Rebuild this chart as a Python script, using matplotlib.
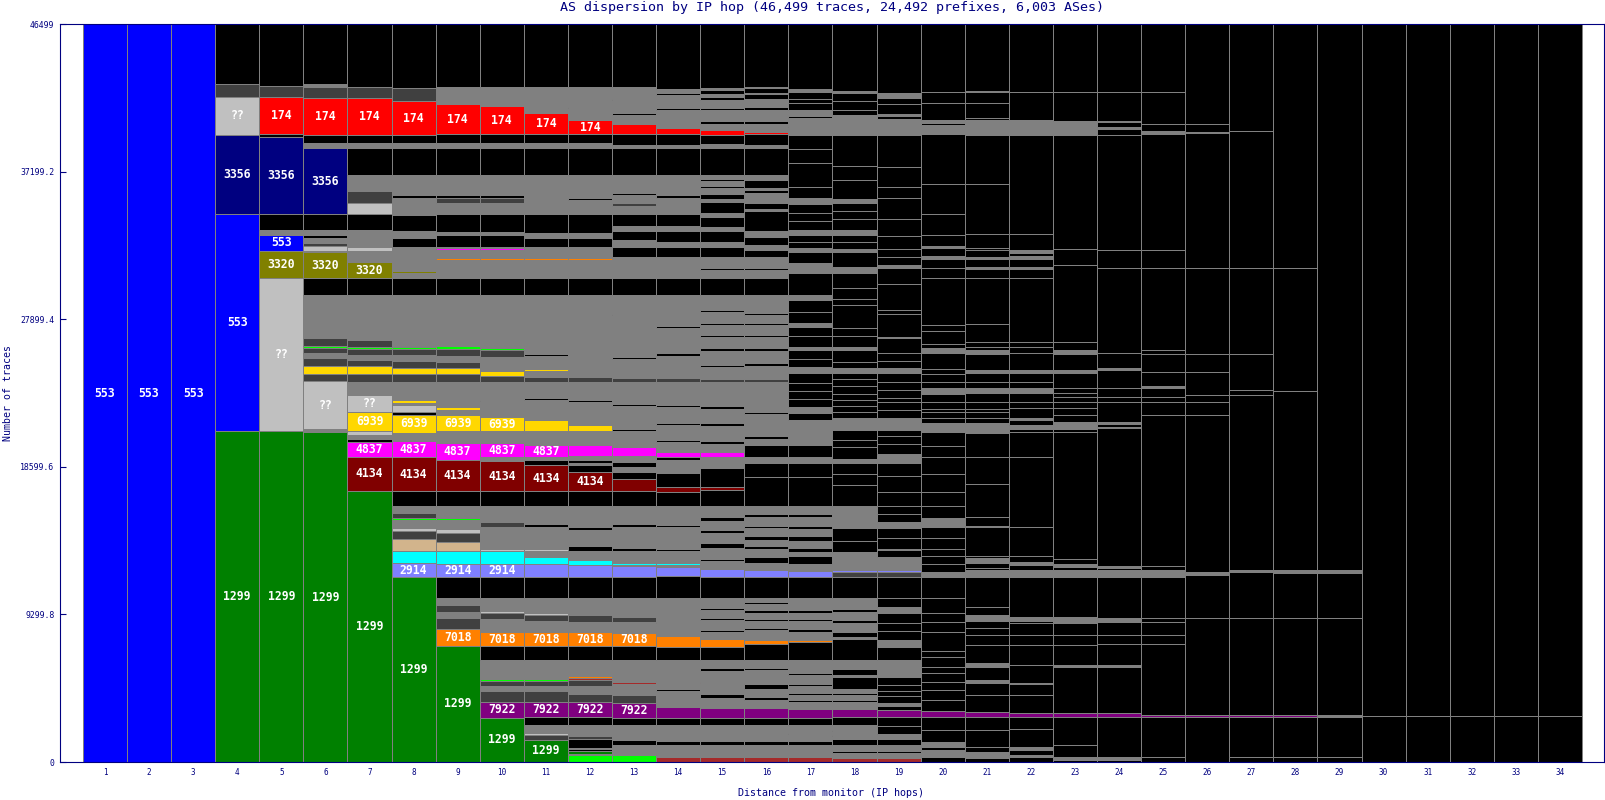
import matplotlib
matplotlib.use("Agg")
import matplotlib.pyplot as plt

NAVY = "#000080"
MONO = "DejaVu Sans Mono"

title = "AS dispersion by IP hop (46,499 traces, 24,492 prefixes, 6,003 ASes)"
total_traces = 46499
hops = list(range(1, 35))
y_ticks = [0, 9299.8, 18599.6, 27899.4, 37199.2, 46499]
y_tick_labels = ["0", "9299.8", "18599.6", "27899.4", "37199.2", "46499"]

as_colors = {
    "553": "#0000FF", "1299": "#008000", "3356": "#000080", "174": "#FF0000",
    "??": "#C0C0C0", "3320": "#808000", "6939": "#FFD700", "4837": "#FF00FF",
    "4134": "#800000", "2914": "#8080FF", "7018": "#FF8000", "7922": "#800080",
    "cyan": "#00FFFF", "tan": "#D2B48C", "lime": "#00FF00", "brown": "#A52A2A",
    "gray": "#808080", "dgray": "#404040", "black": "#000000",
}

# segments per hop, bottom -> top: (AS, traces, show label)
hop01 = [("553", 46499, 1)]
hop02 = [("553", 46499, 1)]
hop03 = [("553", 46499, 1)]
hop04 = [("1299", 20853, 1), ("553", 13671, 1), ("3356", 4996, 1), ("??", 2394, 1), ("dgray", 777, 0), ("black", 3808, 0)]
hop05 = [("1299", 20853, 1), ("??", 9639, 1), ("3320", 1720, 1), ("553", 989, 1), ("gray", 315, 0), ("black", 1008, 0),
         ("3356", 4826, 1), ("black", 230, 0), ("174", 2350, 1), ("dgray", 674, 0), ("black", 3895, 0)]
hop06 = [("1299", 20790, 1), ("gray", 190, 0), ("??", 3000, 1), ("dgray", 485, 0), ("6939", 504, 0), ("dgray", 500, 0),
         ("gray", 300, 0), ("dgray", 300, 0), ("lime", 130, 0), ("dgray", 500, 0), ("gray", 2720, 0), ("black", 1073, 0),
         ("3320", 1613, 1), ("gray", 110, 0), ("??", 296, 0), ("dgray", 200, 0), ("gray", 300, 0), ("black", 200, 0),
         ("gray", 300, 0), ("black", 1013, 0), ("3356", 4158, 1), ("gray", 315, 0), ("black", 504, 0), ("174", 2350, 1),
         ("dgray", 693, 0), ("gray", 150, 0), ("black", 3805, 0)]
hop07 = [("1299", 17092, 1), ("4134", 2142, 1), ("4837", 945, 1), ("black", 200, 0), ("gray", 220, 0), ("??", 250, 0),
         ("6939", 1197, 1), ("??", 1071, 1), ("gray", 823, 0), ("dgray", 504, 0), ("6939", 504, 0), ("dgray", 400, 0),
         ("gray", 300, 0), ("dgray", 400, 0), ("lime", 130, 0), ("dgray", 400, 0), ("gray", 2843, 0), ("black", 1071, 0),
         ("3320", 983, 1), ("gray", 750, 0), ("??", 220, 0), ("gray", 1071, 0), ("black", 1008, 0), ("??", 693, 0),
         ("dgray", 730, 0), ("gray", 1034, 0), ("black", 1701, 0), ("gray", 315, 0), ("black", 504, 0), ("174", 2350, 1),
         ("dgray", 693, 0), ("black", 3955, 0)]
hop08 = [("1299", 11674, 1), ("2914", 844, 1), ("cyan", 775, 0), ("tan", 756, 0), ("dgray", 504, 0), ("??", 208, 0),
         ("gray", 500, 0), ("lime", 126, 0), ("dgray", 300, 0), ("gray", 441, 0), ("black", 945, 0), ("4134", 2142, 1),
         ("4837", 1008, 1), ("gray", 523, 0), ("6939", 1115, 1), ("black", 208, 0), ("??", 441, 0), ("gray", 82, 0),
         ("6939", 233, 0), ("gray", 1115, 0), ("dgray", 485, 0), ("6939", 420, 0), ("dgray", 400, 0), ("gray", 400, 0),
         ("dgray", 400, 0), ("lime", 130, 0), ("gray", 3246, 0), ("black", 1071, 0), ("gray", 315, 0), ("3320", 105, 0),
         ("gray", 1533, 0), ("black", 567, 0), ("gray", 422, 0), ("black", 1000, 0), ("??", 101, 0), ("gray", 1000, 0),
         ("black", 214, 0), ("gray", 1232, 0), ("black", 1701, 0), ("gray", 315, 0), ("black", 503, 0), ("174", 2142, 1),
         ("dgray", 838, 0), ("black", 4019, 0)]
hop09 = [("1299", 7327, 1), ("7018", 1052, 1), ("dgray", 700, 0), ("gray", 400, 0), ("dgray", 400, 0), ("gray", 453, 0),
         ("black", 1323, 0), ("2914", 844, 1), ("cyan", 775, 0), ("tan", 586, 0), ("dgray", 548, 0), ("??", 252, 0),
         ("gray", 600, 0), ("lime", 126, 0), ("gray", 742, 0), ("black", 945, 0), ("4134", 1953, 1), ("4837", 1090, 1),
         ("gray", 737, 0), ("6939", 989, 1), ("gray", 359, 0), ("6939", 145, 0), ("gray", 1594, 0), ("dgray", 485, 0),
         ("6939", 378, 0), ("dgray", 400, 0), ("gray", 400, 0), ("dgray", 450, 0), ("lime", 130, 0), ("gray", 3238, 0),
         ("black", 1071, 0), ("gray", 1150, 0), ("7018", 120, 0), ("gray", 500, 0), ("4837", 120, 0), ("gray", 63, 0),
         ("black", 737, 0), ("gray", 208, 0), ("black", 1134, 0), ("gray", 693, 0), ("dgray", 315, 0), ("black", 208, 0),
         ("gray", 1241, 0), ("black", 1701, 0), ("gray", 315, 0), ("black", 567, 0), ("174", 1890, 1), ("gray", 1090, 0),
         ("black", 3955, 0)]
hop10 = [("1299", 2793, 1), ("7922", 987, 1), ("dgray", 700, 0), ("gray", 300, 0), ("dgray", 350, 0), ("lime", 130, 0),
         ("gray", 1166, 0), ("black", 882, 0), ("7018", 882, 1), ("gray", 800, 0), ("dgray", 400, 0), ("??", 100, 0),
         ("gray", 842, 0), ("black", 1323, 0), ("2914", 844, 1), ("cyan", 775, 0), ("??", 126, 0), ("gray", 1400, 0),
         ("dgray", 300, 0), ("gray", 1028, 0), ("black", 945, 0), ("4134", 1890, 1), ("gray", 252, 0), ("4837", 882, 1),
         ("gray", 756, 0), ("6939", 882, 1), ("gray", 1000, 0), ("black", 100, 0), ("gray", 1105, 0), ("dgray", 378, 0),
         ("6939", 290, 0), ("gray", 940, 0), ("dgray", 400, 0), ("lime", 134, 0), ("gray", 3339, 0), ("black", 1071, 0),
         ("gray", 1150, 0), ("7018", 120, 0), ("gray", 500, 0), ("4837", 120, 0), ("gray", 63, 0), ("black", 737, 0),
         ("gray", 208, 0), ("black", 1134, 0), ("gray", 693, 0), ("dgray", 315, 0), ("black", 208, 0), ("gray", 1241, 0),
         ("black", 1701, 0), ("gray", 315, 0), ("black", 567, 0), ("174", 1764, 1), ("gray", 1218, 0), ("black", 3953, 0)]
hop11 = [("1299", 1407, 1), ("dgray", 271, 0), ("??", 126, 0), ("gray", 527, 0), ("black", 504, 0), ("7922", 945, 1),
         ("dgray", 700, 0), ("gray", 300, 0), ("dgray", 350, 0), ("lime", 130, 0), ("gray", 1166, 0), ("black", 882, 0),
         ("7018", 882, 1), ("gray", 700, 0), ("dgray", 400, 0), ("??", 100, 0), ("gray", 942, 0), ("black", 1323, 0),
         ("2914", 820, 0), ("cyan", 460, 0), ("gray", 358, 0), ("??", 126, 0), ("gray", 1381, 0), ("black", 200, 0),
         ("gray", 1128, 0), ("black", 945, 0), ("4134", 1638, 1), ("black", 300, 0), ("gray", 204, 0), ("4837", 735, 1),
         ("gray", 903, 0), ("6939", 672, 0), ("gray", 1300, 0), ("black", 100, 0), ("gray", 1015, 0), ("dgray", 315, 0),
         ("gray", 370, 0), ("6939", 168, 0), ("gray", 800, 0), ("black", 100, 0), ("gray", 3728, 0), ("black", 1071, 0),
         ("gray", 1150, 0), ("7018", 120, 0), ("gray", 683, 0), ("black", 600, 0), ("gray", 300, 0), ("black", 1179, 0),
         ("gray", 2457, 0), ("black", 1701, 0), ("gray", 315, 0), ("black", 567, 0), ("174", 1302, 1), ("??", 100, 0),
         ("gray", 1575, 0), ("black", 3958, 0)]
hop12 = [("lime", 420, 0), ("gray", 63, 0), ("1299", 210, 0), ("black", 126, 0), ("??", 63, 0), ("black", 592, 0),
         ("dgray", 145, 0), ("gray", 712, 0), ("black", 504, 0), ("7922", 945, 1), ("dgray", 500, 0), ("gray", 500, 0),
         ("dgray", 400, 0), ("brown", 120, 0), ("7018", 100, 0), ("gray", 1026, 0), ("black", 882, 0), ("7018", 882, 1),
         ("gray", 600, 0), ("dgray", 500, 0), ("gray", 1042, 0), ("black", 1323, 0), ("2914", 735, 0), ("cyan", 315, 0),
         ("??", 100, 0), ("gray", 488, 0), ("black", 300, 0), ("gray", 1000, 0), ("black", 200, 0), ("gray", 1335, 0),
         ("black", 945, 0), ("4134", 1218, 1), ("black", 420, 0), ("gray", 145, 0), ("black", 150, 0), ("gray", 297, 0),
         ("4837", 672, 0), ("gray", 878, 0), ("6939", 357, 0), ("gray", 1500, 0), ("black", 100, 0), ("gray", 1130, 0),
         ("dgray", 315, 0), ("gray", 500, 0), ("6939", 100, 0), ("gray", 4566, 0), ("black", 1071, 0), ("gray", 1150, 0),
         ("7018", 120, 0), ("gray", 683, 0), ("black", 600, 0), ("gray", 300, 0), ("black", 1179, 0), ("gray", 900, 0),
         ("black", 120, 0), ("gray", 1437, 0), ("black", 1701, 0), ("gray", 315, 0), ("black", 567, 0), ("174", 882, 1),
         ("gray", 735, 0), ("black", 100, 0), ("gray", 1260, 0), ("black", 3958, 0)]
hop13 = [("lime", 420, 0), ("gray", 630, 0), ("black", 357, 0), ("gray", 903, 0), ("black", 484, 0), ("7922", 920, 1),
         ("dgray", 500, 0), ("gray", 700, 0), ("brown", 120, 0), ("7018", 100, 0), ("gray", 1292, 0), ("black", 882, 0),
         ("7018", 844, 1), ("gray", 700, 0), ("dgray", 300, 0), ("gray", 1180, 0), ("black", 1323, 0), ("2914", 672, 0),
         ("gray", 60, 0), ("cyan", 168, 0), ("gray", 738, 0), ("black", 200, 0), ("gray", 1300, 0), ("black", 200, 0),
         ("gray", 1135, 0), ("black", 945, 0), ("4134", 735, 0), ("black", 478, 0), ("gray", 300, 0), ("black", 300, 0),
         ("gray", 400, 0), ("4837", 567, 0), ("gray", 1000, 0), ("black", 100, 0), ("gray", 1500, 0), ("black", 100, 0),
         ("gray", 1387, 0), ("dgray", 252, 0), ("gray", 1200, 0), ("black", 100, 0), ("gray", 2650, 0), ("black", 100, 0),
         ("gray", 1179, 0), ("black", 1071, 0), ("gray", 1342, 0), ("black", 630, 0), ("gray", 400, 0), ("black", 600, 0),
         ("gray", 300, 0), ("black", 760, 0), ("gray", 500, 0), ("dgray", 200, 0), ("gray", 500, 0), ("black", 150, 0),
         ("gray", 1107, 0), ("black", 1701, 0), ("gray", 200, 0), ("black", 682, 0), ("174", 630, 0), ("gray", 600, 0),
         ("black", 100, 0), ("gray", 800, 0), ("black", 100, 0), ("gray", 750, 0), ("black", 3955, 0)]
hop14 = [("brown", 315, 0), ("gray", 735, 0), ("black", 300, 0), ("gray", 981, 0), ("black", 420, 0), ("7922", 735, 0),
         ("gray", 1000, 0), ("black", 100, 0), ("gray", 500, 0), ("brown", 100, 0), ("gray", 1240, 0), ("black", 840, 0),
         ("7018", 672, 0), ("gray", 800, 0), ("black", 100, 0), ("gray", 1494, 0), ("black", 1365, 0), ("2914", 588, 0),
         ("gray", 150, 0), ("cyan", 100, 0), ("gray", 763, 0), ("black", 100, 0), ("gray", 1400, 0), ("black", 150, 0),
         ("gray", 1180, 0), ("black", 900, 0), ("4134", 315, 0), ("black", 840, 0), ("gray", 840, 0), ("black", 200, 0),
         ("4837", 336, 0), ("gray", 600, 0), ("black", 150, 0), ("gray", 900, 0), ("black", 150, 0), ("gray", 1000, 0),
         ("black", 150, 0), ("gray", 1431, 0), ("dgray", 252, 0), ("gray", 1400, 0), ("black", 150, 0), ("gray", 1600, 0),
         ("black", 150, 0), ("gray", 1929, 0), ("black", 1071, 0), ("gray", 1342, 0), ("black", 630, 0), ("gray", 300, 0),
         ("black", 700, 0), ("gray", 300, 0), ("black", 760, 0), ("gray", 1000, 0), ("black", 200, 0), ("gray", 1257, 0),
         ("black", 1701, 0), ("gray", 200, 0), ("black", 682, 0), ("174", 378, 0), ("gray", 1134, 0), ("black", 150, 0),
         ("gray", 800, 0), ("black", 150, 0), ("gray", 200, 0), ("black", 4123, 0)]
hop15 = [("brown", 315, 0), ("gray", 735, 0), ("black", 300, 0), ("gray", 981, 0), ("black", 441, 0), ("7922", 630, 0),
         ("gray", 600, 0), ("black", 300, 0), ("gray", 650, 0), ("brown", 80, 0), ("gray", 700, 0), ("black", 200, 0),
         ("gray", 494, 0), ("black", 840, 0), ("7018", 504, 0), ("gray", 400, 0), ("black", 150, 0), ("gray", 600, 0),
         ("black", 150, 0), ("gray", 500, 0), ("black", 150, 0), ("gray", 593, 0), ("black", 1361, 0), ("2914", 483, 0),
         ("gray", 500, 0), ("black", 150, 0), ("gray", 700, 0), ("black", 300, 0), ("gray", 600, 0), ("black", 200, 0),
         ("gray", 600, 0), ("black", 200, 0), ("gray", 721, 0), ("black", 1008, 0), ("4134", 170, 0), ("black", 1216, 0),
         ("gray", 712, 0), ("4837", 315, 0), ("gray", 500, 0), ("black", 150, 0), ("gray", 1000, 0), ("black", 150, 0),
         ("gray", 900, 0), ("black", 150, 0), ("gray", 1560, 0), ("dgray", 200, 0), ("gray", 700, 0), ("black", 150, 0),
         ("gray", 900, 0), ("black", 150, 0), ("gray", 700, 0), ("black", 150, 0), ("gray", 600, 0), ("black", 150, 0),
         ("gray", 700, 0), ("black", 150, 0), ("gray", 912, 0), ("black", 1052, 0), ("gray", 500, 0), ("black", 150, 0),
         ("gray", 711, 0), ("black", 630, 0), ("gray", 300, 0), ("black", 700, 0), ("gray", 250, 0), ("black", 600, 0),
         ("gray", 250, 0), ("black", 700, 0), ("gray", 200, 0), ("black", 300, 0), ("gray", 400, 0), ("black", 150, 0),
         ("gray", 300, 0), ("black", 100, 0), ("gray", 267, 0), ("black", 1682, 0), ("gray", 300, 0), ("black", 538, 0),
         ("174", 315, 0), ("gray", 400, 0), ("black", 150, 0), ("gray", 700, 0), ("black", 150, 0), ("gray", 500, 0),
         ("black", 200, 0), ("gray", 150, 0), ("black", 300, 0), ("gray", 100, 0), ("black", 4033, 0)]
hop16 = [("brown", 315, 0), ("gray", 735, 0), ("black", 300, 0), ("gray", 981, 0), ("black", 441, 0), ("7922", 630, 0),
         ("gray", 500, 0), ("black", 200, 0), ("gray", 500, 0), ("black", 300, 0), ("brown", 80, 0), ("gray", 800, 0),
         ("black", 150, 0), ("gray", 494, 0), ("black", 1010, 0), ("7018", 273, 0), ("gray", 600, 0), ("black", 150, 0),
         ("gray", 400, 0), ("black", 150, 0), ("gray", 400, 0), ("black", 150, 0), ("gray", 400, 0), ("black", 100, 0),
         ("gray", 254, 0), ("black", 1361, 0), ("2914", 441, 0), ("gray", 400, 0), ("black", 400, 0), ("gray", 500, 0),
         ("black", 200, 0), ("gray", 400, 0), ("black", 200, 0), ("gray", 500, 0), ("black", 150, 0), ("gray", 600, 0),
         ("black", 150, 0), ("gray", 513, 0), ("black", 1847, 0), ("black", 843, 0), ("gray", 416, 0), ("black", 737, 0),
         ("gray", 400, 0), ("black", 150, 0), ("gray", 1400, 0), ("black", 150, 0), ("gray", 1888, 0), ("dgray", 200, 0),
         ("gray", 800, 0), ("black", 150, 0), ("gray", 800, 0), ("black", 150, 0), ("gray", 700, 0), ("black", 150, 0),
         ("gray", 600, 0), ("black", 150, 0), ("gray", 500, 0), ("black", 150, 0), ("gray", 1112, 0), ("black", 1052, 0),
         ("gray", 500, 0), ("black", 150, 0), ("gray", 711, 0), ("black", 430, 0), ("gray", 300, 0), ("black", 500, 0),
         ("gray", 400, 0), ("black", 1260, 0), ("gray", 150, 0), ("black", 343, 0), ("gray", 630, 0), ("black", 200, 0),
         ("gray", 100, 0), ("black", 500, 0), ("gray", 334, 0), ("black", 1682, 0), ("gray", 200, 0), ("black", 700, 0),
         ("174", 146, 0), ("gray", 500, 0), ("black", 150, 0), ("gray", 700, 0), ("black", 200, 0), ("gray", 500, 0),
         ("black", 300, 0), ("gray", 100, 0), ("black", 300, 0), ("gray", 100, 0), ("black", 3940, 0)]
hop17 = [("brown", 315, 0), ("gray", 735, 0), ("black", 300, 0), ("gray", 400, 0), ("black", 100, 0), ("gray", 481, 0),
         ("black", 441, 0), ("7922", 588, 0), ("gray", 400, 0), ("black", 150, 0), ("gray", 300, 0), ("black", 150, 0),
         ("gray", 400, 0), ("black", 150, 0), ("gray", 600, 0), ("black", 100, 0), ("gray", 816, 0), ("black", 1134, 0),
         ("7018", 147, 0), ("gray", 500, 0), ("black", 150, 0), ("gray", 500, 0), ("black", 150, 0), ("gray", 400, 0),
         ("black", 200, 0), ("gray", 706, 0), ("black", 1361, 0), ("2914", 378, 0), ("gray", 400, 0), ("black", 500, 0),
         ("gray", 300, 0), ("black", 200, 0), ("gray", 500, 0), ("black", 300, 0), ("gray", 400, 0), ("black", 200, 0),
         ("gray", 600, 0), ("black", 150, 0), ("gray", 526, 0), ("black", 1847, 0), ("black", 843, 0), ("gray", 416, 0),
         ("black", 737, 0), ("gray", 1575, 0), ("black", 423, 0), ("gray", 415, 0), ("black", 500, 0), ("black", 500, 0),
         ("black", 500, 0), ("black", 604, 0), ("gray", 416, 0), ("black", 500, 0), ("black", 552, 0), ("gray", 208, 0),
         ("black", 700, 0), ("black", 560, 0), ("gray", 214, 0), ("black", 700, 0), ("black", 768, 0), ("gray", 315, 0),
         ("black", 1367, 0), ("gray", 630, 0), ("black", 731, 0), ("gray", 214, 0), ("black", 400, 0), ("black", 438, 0),
         ("gray", 315, 0), ("black", 600, 0), ("black", 500, 0), ("black", 538, 0), ("gray", 359, 0), ("black", 732, 0),
         ("black", 1500, 0), ("black", 900, 0), ("black", 856, 0), ("gray", 500, 0), ("black", 100, 0), ("gray", 500, 0),
         ("black", 100, 0), ("gray", 375, 0), ("black", 422, 0), ("black", 300, 0), ("black", 431, 0), ("gray", 148, 0),
         ("black", 4122, 0)]
hop18 = [("brown", 252, 0), ("gray", 300, 0), ("black", 150, 0), ("gray", 348, 0), ("black", 380, 0), ("gray", 200, 0),
         ("black", 100, 0), ("gray", 200, 0), ("black", 100, 0), ("gray", 301, 0), ("black", 504, 0), ("7922", 483, 0),
         ("gray", 450, 0), ("black", 150, 0), ("gray", 300, 0), ("black", 150, 0), ("gray", 200, 0), ("black", 800, 0),
         ("gray", 100, 0), ("black", 400, 0), ("gray", 558, 0), ("black", 1300, 0), ("gray", 150, 0), ("black", 300, 0),
         ("gray", 600, 0), ("black", 150, 0), ("gray", 500, 0), ("black", 200, 0), ("gray", 687, 0), ("black", 1361, 0),
         ("dgray", 300, 0), ("2914", 126, 0), ("gray", 1149, 0), ("black", 700, 0), ("black", 793, 0), ("gray", 1386, 0),
         ("black", 1300, 0), ("black", 700, 0), ("black", 690, 0), ("gray", 300, 0), ("black", 700, 0), ("black", 500, 0),
         ("black", 598, 0), ("gray", 737, 0), ("black", 400, 0), ("black", 350, 0), ("black", 400, 0), ("black", 400, 0),
         ("black", 500, 0), ("black", 400, 0), ("black", 385, 0), ("gray", 315, 0), ("black", 400, 0), ("black", 753, 0),
         ("gray", 208, 0), ("black", 700, 0), ("black", 500, 0), ("black", 1400, 0), ("black", 400, 0), ("black", 700, 0),
         ("black", 924, 0), ("gray", 416, 0), ("black", 945, 0), ("gray", 200, 0), ("black", 400, 0), ("black", 452, 0),
         ("gray", 315, 0), ("black", 700, 0), ("black", 500, 0), ("black", 522, 0), ("gray", 211, 0), ("black", 1200, 0),
         ("black", 900, 0), ("black", 1952, 0), ("gray", 1260, 0), ("black", 315, 0), ("black", 600, 0), ("black", 500, 0),
         ("gray", 100, 0), ("black", 4223, 0)]
hop19 = [("brown", 252, 0), ("gray", 300, 0), ("black", 150, 0), ("gray", 348, 0), ("black", 400, 0), ("gray", 300, 0),
         ("black", 500, 0), ("black", 576, 0), ("7922", 420, 0), ("black", 300, 0), ("gray", 200, 0), ("black", 400, 0),
         ("black", 300, 0), ("black", 400, 0), ("black", 500, 0), ("gray", 1080, 0), ("black", 838, 0), ("gray", 400, 0),
         ("black", 600, 0), ("black", 500, 0), ("black", 604, 0), ("gray", 416, 0), ("black", 529, 0), ("black", 1361, 0),
         ("dgray", 300, 0), ("2914", 100, 0), ("gray", 860, 0), ("black", 400, 0), ("gray", 100, 0), ("black", 700, 0),
         ("black", 600, 0), ("gray", 400, 0), ("black", 500, 0), ("black", 494, 0), ("black", 900, 0), ("black", 1000, 0),
         ("black", 800, 0), ("gray", 600, 0), ("black", 600, 0), ("black", 500, 0), ("black", 388, 0), ("gray", 737, 0),
         ("black", 500, 0), ("black", 500, 0), ("black", 300, 0), ("black", 500, 0), ("black", 500, 0), ("black", 535, 0),
         ("gray", 315, 0), ("black", 450, 0), ("black", 500, 0), ("black", 950, 0), ("gray", 100, 0), ("black", 1400, 0),
         ("black", 300, 0), ("black", 1600, 0), ("black", 1000, 0), ("gray", 210, 0), ("black", 500, 0), ("black", 500, 0),
         ("black", 800, 0), ("black", 1100, 0), ("black", 1300, 0), ("black", 700, 0), ("black", 1300, 0), ("black", 1988, 0),
         ("gray", 1000, 0), ("black", 200, 0), ("gray", 150, 0), ("black", 600, 0), ("black", 400, 0), ("gray", 300, 0),
         ("black", 4348, 0)]
hop20 = [("black", 334, 0), ("gray", 400, 0), ("black", 200, 0), ("gray", 300, 0), ("black", 800, 0), ("black", 800, 0),
         ("7922", 380, 0), ("black", 700, 0), ("black", 600, 0), ("black", 500, 0), ("black", 600, 0), ("black", 400, 0),
         ("black", 600, 0), ("black", 400, 0), ("black", 1200, 0), ("black", 600, 0), ("black", 600, 0), ("black", 899, 0),
         ("black", 1361, 0), ("gray", 315, 0), ("black", 500, 0), ("black", 500, 0), ("black", 400, 0), ("black", 700, 0),
         ("black", 700, 0), ("gray", 600, 0), ("black", 739, 0), ("black", 901, 0), ("black", 1100, 0), ("black", 1100, 0),
         ("black", 700, 0), ("black", 880, 0), ("gray", 548, 0), ("black", 300, 0), ("black", 400, 0), ("black", 200, 0),
         ("black", 450, 0), ("black", 500, 0), ("gray", 350, 0), ("black", 400, 0), ("black", 500, 0), ("black", 300, 0),
         ("black", 1000, 0), ("gray", 300, 0), ("black", 300, 0), ("black", 800, 0), ("black", 400, 0), ("black", 2916, 0),
         ("black", 630, 0), ("black", 600, 0), ("gray", 200, 0), ("black", 500, 0), ("gray", 100, 0), ("black", 700, 0),
         ("black", 1300, 0), ("black", 1900, 0), ("black", 3161, 0), ("gray", 567, 0), ("black", 150, 0), ("gray", 150, 0),
         ("black", 1067, 0), ("black", 700, 0), ("black", 4301, 0)]
hop21 = [("black", 233, 0), ("gray", 416, 0), ("black", 315, 0), ("black", 1052, 0), ("black", 800, 0), ("7922", 353, 0),
         ("black", 1052, 0), ("black", 737, 0), ("gray", 208, 0), ("black", 838, 0), ("gray", 214, 0), ("black", 1153, 0),
         ("black", 630, 0), ("black", 422, 0), ("black", 479, 0), ("gray", 359, 0), ("black", 485, 0), ("black", 1928, 0),
         ("gray", 422, 0), ("black", 107, 0), ("black", 315, 0), ("gray", 315, 0), ("black", 145, 0), ("black", 1808, 0),
         ("gray", 100, 0), ("black", 568, 0), ("black", 2041, 0), ("black", 1739, 0), ("black", 1474, 0), ("gray", 649, 0),
         ("black", 300, 0), ("black", 400, 0), ("black", 200, 0), ("black", 442, 0), ("black", 548, 0), ("gray", 315, 0),
         ("black", 397, 0), ("black", 529, 0), ("gray", 208, 0), ("black", 1008, 0), ("gray", 252, 0), ("black", 170, 0),
         ("black", 353, 0), ("black", 1096, 0), ("black", 2898, 0), ("black", 563, 0), ("gray", 168, 0), ("black", 466, 0),
         ("gray", 164, 0), ("black", 422, 0), ("black", 107, 0), ("black", 882, 0), ("black", 3150, 0), ("black", 3106, 0),
         ("gray", 945, 0), ("black", 107, 0), ("black", 945, 0), ("black", 731, 0), ("gray", 63, 0), ("black", 4207, 0)]
hop22 = [("black", 334, 0), ("gray", 107, 0), ("black", 315, 0), ("gray", 208, 0), ("black", 1096, 0), ("black", 756, 0),
         ("7922", 252, 0), ("black", 1153, 0), ("black", 693, 0), ("gray", 82, 0), ("black", 1115, 0), ("black", 1260, 0),
         ("black", 630, 0), ("black", 737, 0), ("black", 164, 0), ("gray", 214, 0), ("black", 2558, 0), ("gray", 422, 0),
         ("black", 315, 0), ("gray", 200, 0), ("black", 367, 0), ("black", 1808, 0), ("black", 4448, 0), ("black", 1575, 0),
         ("black", 170, 0), ("gray", 252, 0), ("black", 315, 0), ("gray", 126, 0), ("black", 611, 0), ("black", 416, 0),
         ("black", 548, 0), ("gray", 315, 0), ("black", 397, 0), ("black", 529, 0), ("gray", 208, 0), ("black", 1071, 0),
         ("black", 359, 0), ("black", 353, 0), ("black", 3994, 0), ("black", 563, 0), ("gray", 168, 0), ("black", 466, 0),
         ("gray", 200, 0), ("black", 200, 0), ("gray", 186, 0), ("black", 989, 0), ("black", 6256, 0), ("gray", 945, 0),
         ("black", 1745, 0), ("black", 4308, 0)]
hop23 = [("black", 126, 0), ("gray", 208, 0), ("black", 737, 0), ("black", 1745, 0), ("7922", 290, 0), ("black", 2898, 0),
         ("gray", 107, 0), ("black", 1260, 0), ("black", 630, 0), ("black", 737, 0), ("gray", 378, 0), ("black", 2558, 0),
         ("gray", 422, 0), ("black", 208, 0), ("gray", 150, 0), ("black", 335, 0), ("black", 8020, 0), ("black", 170, 0),
         ("gray", 460, 0), ("black", 422, 0), ("black", 422, 0), ("black", 416, 0), ("black", 315, 0), ("black", 233, 0),
         ("black", 315, 0), ("black", 926, 0), ("gray", 208, 0), ("black", 1008, 0), ("gray", 252, 0), ("black", 523, 0),
         ("black", 4832, 0), ("black", 1008, 0), ("black", 7182, 0), ("gray", 882, 0), ("black", 1808, 0), ("black", 4308, 0)]
hop24 = [("black", 126, 0), ("gray", 208, 0), ("black", 2482, 0), ("7922", 271, 0), ("black", 2917, 0), ("gray", 107, 0),
         ("black", 1304, 0), ("black", 586, 0), ("black", 838, 0), ("gray", 214, 0), ("black", 2621, 0), ("gray", 422, 0),
         ("black", 107, 0), ("gray", 145, 0), ("black", 8675, 0), ("gray", 101, 0), ("black", 170, 0), ("gray", 145, 0),
         ("black", 1260, 0), ("black", 315, 0), ("black", 536, 0), ("black", 1146, 0), ("gray", 100, 0), ("black", 971, 0),
         ("black", 5336, 0), ("black", 1153, 0), ("black", 7245, 0), ("black", 400, 0), ("gray", 100, 0), ("black", 300, 0),
         ("gray", 100, 0), ("black", 1790, 0), ("black", 4308, 0)]
hop25 = [("black", 334, 0), ("black", 2482, 0), ("7922", 145, 0), ("black", 4454, 0), ("black", 586, 0), ("black", 838, 0),
         ("black", 214, 0), ("black", 2621, 0), ("gray", 422, 0), ("black", 252, 0), ("black", 9513, 0), ("black", 838, 0),
         ("black", 315, 0), ("black", 548, 0), ("gray", 100, 0), ("black", 929, 0), ("black", 1113, 0), ("black", 252, 0),
         ("black", 5147, 0), ("black", 1153, 0), ("black", 7308, 0), ("gray", 200, 0), ("black", 430, 0), ("black", 1997, 0),
         ("black", 4308, 0)]
hop26 = [("black", 2816, 0), ("7922", 145, 0), ("black", 6092, 0), ("black", 2728, 0), ("gray", 208, 0), ("black", 9872, 0),
         ("black", 838, 0), ("black", 422, 0), ("black", 1470, 0), ("black", 1113, 0), ("black", 5399, 0), ("black", 8503, 0),
         ("gray", 105, 0), ("black", 483, 0), ("black", 6305, 0)]
hop27 = [("black", 284, 0), ("black", 2532, 0), ("7922", 145, 0), ("black", 6092, 0), ("black", 2936, 0), ("gray", 107, 0),
         ("black", 11025, 0), ("black", 315, 0), ("black", 2268, 0), ("black", 5399, 0), ("black", 8650, 0), ("black", 6746, 0)]
hop28 = [("black", 284, 0), ("black", 2532, 0), ("7922", 130, 0), ("black", 6107, 0), ("black", 2854, 0), ("gray", 164, 0),
         ("black", 11327, 0), ("black", 7705, 0), ("black", 15396, 0)]
hop29 = [("black", 284, 0), ("black", 2570, 0), ("gray", 100, 0), ("black", 6099, 0), ("black", 2854, 0), ("gray", 164, 0),
         ("black", 34428, 0)]
hop30 = [("black", 2867, 0), ("black", 43632, 0)]
hop31 = [("black", 2867, 0), ("black", 43632, 0)]
hop32 = [("black", 2867, 0), ("black", 43632, 0)]
hop33 = [("black", 2867, 0), ("black", 43632, 0)]
hop34 = [("black", 2867, 0), ("black", 43632, 0)]

columns = [hop01, hop02, hop03, hop04, hop05, hop06, hop07, hop08, hop09, hop10, hop11, hop12,
           hop13, hop14, hop15, hop16, hop17, hop18, hop19, hop20, hop21, hop22, hop23, hop24,
           hop25, hop26, hop27, hop28, hop29, hop30, hop31, hop32, hop33, hop34]

fig = plt.figure(figsize=(16.05, 8.0), dpi=100)
fig.patch.set_facecolor("white")
ax = fig.add_axes([60 / 1605, 38 / 800, 1544 / 1605, 738 / 800])

for x, segs in zip(hops, columns):
    heights = [s[1] for s in segs]
    colors = [as_colors[s[0]] for s in segs]
    bottoms = []
    acc = 0
    for h in heights:
        bottoms.append(acc)
        acc += h
    ax.bar([x] * len(segs), heights, bottom=bottoms, width=1.0, color=colors,
           edgecolor="#808080", linewidth=0.72, align="center")
    for (name, cnt, show), b in zip(segs, bottoms):
        if show:
            ax.text(x, b + cnt / 2.0, name, ha="center", va="center", color="white",
                    fontsize=8.3, fontweight="bold", family=MONO, clip_on=True)

ax.set_xlim(-0.02, 35.0)
ax.set_ylim(0, total_traces)
ax.set_yticks(y_ticks)
ax.set_yticklabels(y_tick_labels, family=MONO, fontsize=5.9, color=NAVY)
ax.set_xticks(hops)
ax.set_xticklabels([str(h) for h in hops], family=MONO, fontsize=5.5, color=NAVY)
ax.tick_params(axis="y", direction="in", length=4, width=0.8, colors=NAVY, pad=4)
ax.tick_params(axis="x", length=0, pad=4, colors=NAVY)
for sp in ax.spines.values():
    sp.set_color(NAVY)
    sp.set_linewidth(0.8)

fig.text(832 / 1605, 1 - 8 / 800, title, ha="center", va="center", color=NAVY,
         fontsize=9.6, family=MONO)
fig.text(8 / 1605, 1 - 393 / 800, "Number of traces", rotation=90, ha="center", va="center",
         color=NAVY, fontsize=7.1, family=MONO)
fig.text(831 / 1605, 1 - 793 / 800, "Distance from monitor (IP hops)", ha="center", va="center",
         color=NAVY, fontsize=7.2, family=MONO)

fig.savefig("out.png", dpi=100, facecolor="white")
